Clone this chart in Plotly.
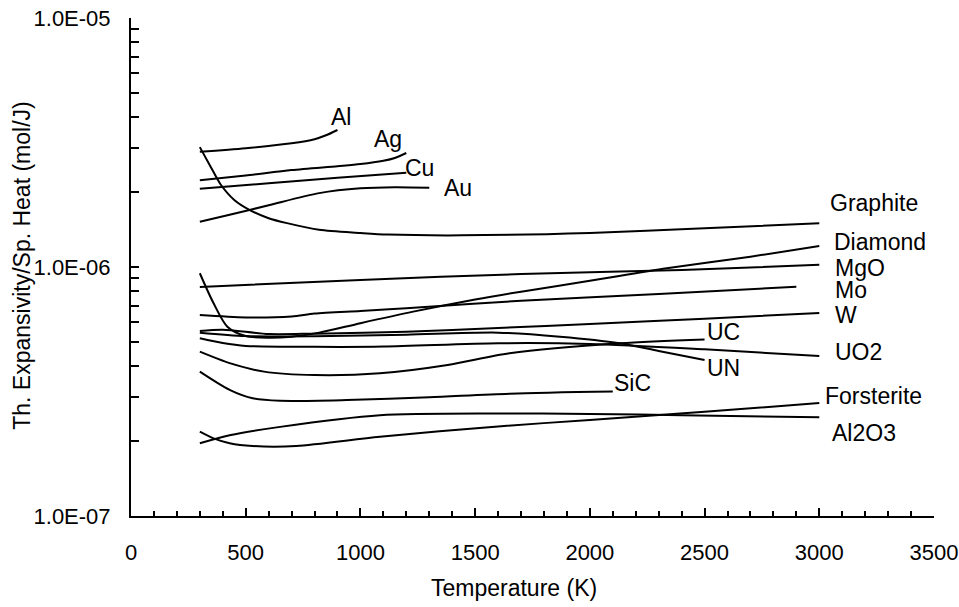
import numpy as np
import plotly.graph_objects as go

# ---------------- data (Temperature K, Th. expansivity / sp. heat, mol/J) -------------
al_T = [300, 500, 700, 800, 850, 900]
al_v = [2.90e-6, 3.00e-6, 3.14e-6, 3.26e-6, 3.38e-6, 3.55e-6]

ag_T = [300, 500, 700, 900, 1000, 1100, 1150, 1200]
ag_v = [2.23e-6, 2.33e-6, 2.45e-6, 2.54e-6, 2.59e-6, 2.67e-6, 2.74e-6, 2.87e-6]

cu_T = [300, 600, 900, 1200]
cu_v = [2.06e-6, 2.17e-6, 2.28e-6, 2.39e-6]

au_T = [300, 430, 600, 820, 1000, 1150, 1300]
au_v = [1.52e-6, 1.62e-6, 1.77e-6, 1.98e-6, 2.07e-6, 2.09e-6, 2.08e-6]

graphite_T = [300, 350, 390, 450, 520, 600, 680, 820, 1000, 1120, 1440, 2000, 2500, 3000]
graphite_v = [3.03e-6, 2.50e-6, 2.15e-6, 1.86e-6, 1.69e-6, 1.57e-6, 1.50e-6, 1.41e-6,
              1.37e-6, 1.35e-6, 1.34e-6, 1.37e-6, 1.43e-6, 1.50e-6]

diamond_T = [300, 360, 420, 500, 600, 700, 820, 1000, 1230, 1500, 1700, 2000, 2335, 2700, 3000]
diamond_v = [9.44e-7, 7.15e-7, 5.76e-7, 5.28e-7, 5.20e-7, 5.25e-7, 5.45e-7, 5.95e-7,
             6.62e-7, 7.40e-7, 7.96e-7, 8.80e-7, 9.88e-7, 1.10e-6, 1.214e-6]

mgo_T = [300, 1000, 1700, 2400, 3000]
mgo_v = [8.32e-7, 8.87e-7, 9.37e-7, 9.73e-7, 1.02e-6]

mo_T = [300, 500, 700, 800, 1000, 1200, 1700, 2300, 2900]
mo_v = [6.41e-7, 6.27e-7, 6.33e-7, 6.50e-7, 6.66e-7, 6.83e-7, 7.32e-7, 7.79e-7, 8.33e-7]

w_T = [300, 400, 600, 800, 1200, 1600, 2000, 2500, 3000]
w_v = [5.53e-7, 5.60e-7, 5.38e-7, 5.40e-7, 5.50e-7, 5.69e-7, 5.90e-7, 6.20e-7, 6.54e-7]

uc_T = [300, 430, 580, 800, 1085, 1380, 1650, 2130, 2500]
uc_v = [4.57e-7, 4.11e-7, 3.80e-7, 3.68e-7, 3.74e-7, 4.04e-7, 4.50e-7, 4.94e-7, 5.12e-7]

uo2_T = [300, 400, 500, 800, 1100, 1600, 2000, 2500, 3000]
uo2_v = [5.17e-7, 4.95e-7, 4.82e-7, 4.78e-7, 4.79e-7, 4.94e-7, 4.91e-7, 4.67e-7, 4.39e-7]

un_T = [300, 500, 800, 1200, 1600, 1870, 2130, 2300, 2500]
un_v = [5.45e-7, 5.28e-7, 5.27e-7, 5.35e-7, 5.45e-7, 5.25e-7, 4.94e-7, 4.60e-7, 4.23e-7]

sic_T = [300, 430, 530, 650, 940, 1300, 1650, 2100]
sic_v = [3.80e-7, 3.21e-7, 2.97e-7, 2.90e-7, 2.92e-7, 3.00e-7, 3.10e-7, 3.16e-7]

forsterite_T = [300, 360, 430, 530, 720, 1085, 1600, 2000, 2500, 3000]
forsterite_v = [2.18e-7, 2.05e-7, 1.96e-7, 1.91e-7, 1.91e-7, 2.08e-7, 2.29e-7, 2.43e-7, 2.62e-7, 2.84e-7]

al2o3_T = [300, 430, 650, 1085, 1600, 2000, 2400, 3000]
al2o3_v = [1.96e-7, 2.11e-7, 2.28e-7, 2.54e-7, 2.58e-7, 2.57e-7, 2.54e-7, 2.49e-7]

series = [
    ("Al", al_T, al_v), ("Ag", ag_T, ag_v), ("Cu", cu_T, cu_v), ("Au", au_T, au_v),
    ("Graphite", graphite_T, graphite_v), ("Diamond", diamond_T, diamond_v),
    ("MgO", mgo_T, mgo_v), ("Mo", mo_T, mo_v), ("W", w_T, w_v), ("UC", uc_T, uc_v),
    ("UO2", uo2_T, uo2_v), ("UN", un_T, un_v), ("SiC", sic_T, sic_v),
    ("Forsterite", forsterite_T, forsterite_v), ("Al2O3", al2o3_T, al2o3_v),
]

# label anchor points (left edge, vertical middle), in data units
label_names = ["Al", "Ag", "Cu", "Au", "Graphite", "Diamond", "MgO", "Mo", "W",
               "UC", "UO2", "UN", "SiC", "Forsterite", "Al2O3"]
label_T = [863, 1050, 1186, 1356, 3038, 3055, 3060, 3060, 3060,
           2502, 3060, 2502, 2097, 3016, 3047]
label_v = [4.00e-6, 3.28e-6, 2.49e-6, 2.08e-6, 1.81e-6, 1.26e-6, 9.95e-7, 8.05e-7, 6.41e-7,
           5.48e-7, 4.56e-7, 3.93e-7, 3.42e-7, 3.03e-7, 2.15e-7]

x_ticks = [0, 500, 1000, 1500, 2000, 2500, 3000, 3500]
y_ticks = [1e-7, 1e-6, 1e-5]
y_ticktext = ["1.0E-07", "1.0E-06", "1.0E-05"]
y_minor = [m * 10.0 ** e for e in (-7, -6) for m in range(2, 10)]

FONT = "Liberation Sans, Arial, sans-serif"

fig = go.Figure()
for name, T, v in series:
    fig.add_trace(go.Scatter(
        x=T, y=v, mode="lines", name=name,
        line=dict(color="black", width=2, shape="spline", smoothing=0.8),
        showlegend=False, hoverinfo="skip",
    ))

for name, T, v in zip(label_names, label_T, label_v):
    fig.add_annotation(
        x=T, y=np.log10(v), xref="x", yref="y", text=name, showarrow=False,
        xanchor="left", yanchor="middle",
        font=dict(family=FONT, size=23, color="black"),
    )

# axis titles
fig.add_annotation(
    x=0.477, y=-0.145, xref="paper", yref="paper", text="Temperature (K)",
    showarrow=False, xanchor="center", yanchor="middle",
    font=dict(family=FONT, size=23, color="black"),
)
fig.add_annotation(
    x=-0.136, y=0.504, xref="paper", yref="paper",
    text="Th. Expansivity/Sp. Heat (mol/J)", textangle=-90,
    showarrow=False, xanchor="center", yanchor="middle",
    font=dict(family=FONT, size=23, color="black"),
)

fig.update_layout(
    width=959, height=607,
    margin=dict(l=131, r=25, t=18, b=91, autoexpand=False),
    paper_bgcolor="white", plot_bgcolor="white",
    font=dict(family=FONT, size=22, color="black"),
    xaxis=dict(
        range=[0, 3500], tickmode="array", tickvals=x_ticks, automargin=False,
        ticks="inside", ticklen=8, tickwidth=1.5, tickcolor="black",
        minor=dict(dtick=100, tick0=0, ticks="inside", ticklen=5, tickwidth=1.5,
                   tickcolor="black", showgrid=False),
        showline=True, linewidth=2, linecolor="black",
        showgrid=False, zeroline=False, ticklabelstandoff=16,
        tickfont=dict(family=FONT, size=22, color="black"),
    ),
    yaxis=dict(
        type="log", range=[-7, -5], tickmode="array", tickvals=y_ticks,
        ticktext=y_ticktext, automargin=False,
        ticks="inside", ticklen=8, tickwidth=1.5, tickcolor="black",
        minor=dict(tickmode="array", tickvals=y_minor, ticks="inside", ticklen=8,
                   tickwidth=1.5, tickcolor="black", showgrid=False),
        showline=True, linewidth=2, linecolor="black",
        showgrid=False, zeroline=False, ticklabelstandoff=14,
        tickfont=dict(family=FONT, size=22, color="black"),
    ),
)

fig.write_html(
    "out.html",
    config={"displayModeBar": False},
    post_script="document.body.style.margin='0';document.body.style.overflow='hidden';",
)
